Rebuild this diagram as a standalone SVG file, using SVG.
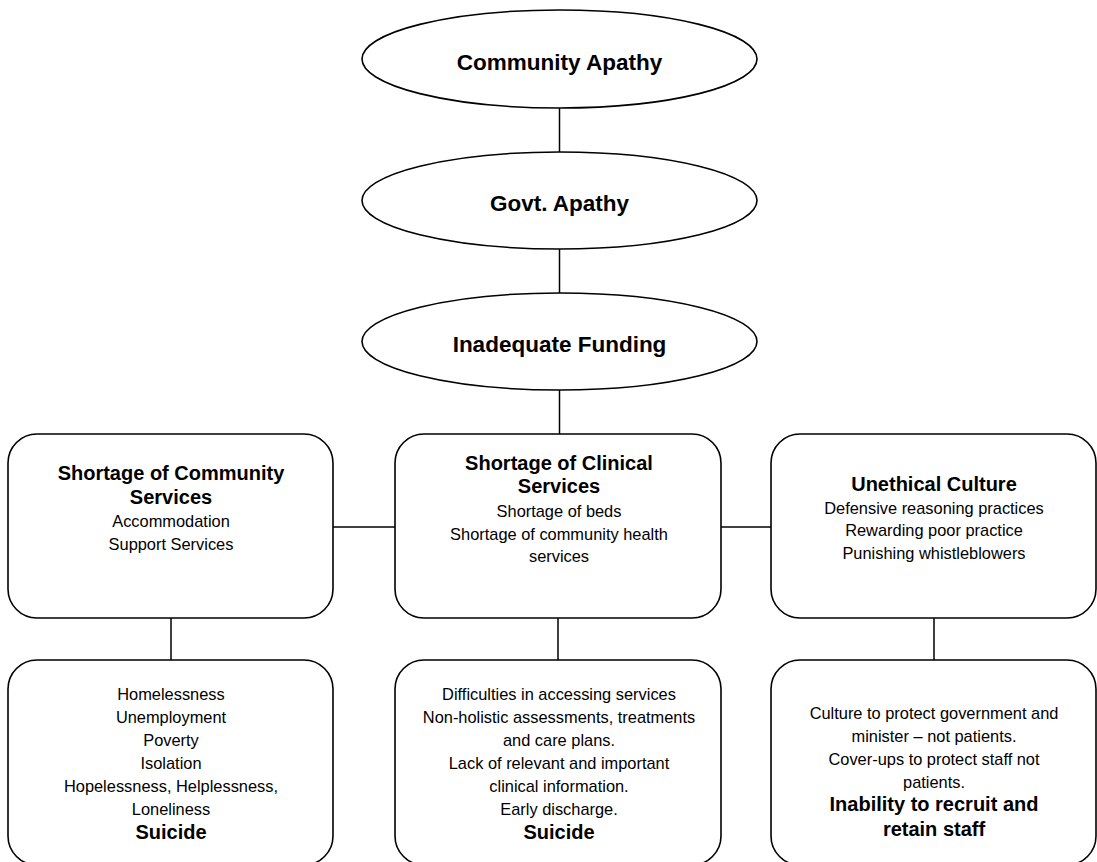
<svg xmlns="http://www.w3.org/2000/svg" width="1097" height="862" viewBox="0 0 1097 862">
<style>
.shape{fill:#fff;stroke:#000;stroke-width:1.6}
.conn line{stroke:#000;stroke-width:1.5}
text{font-family:"Liberation Sans",Arial,Helvetica,sans-serif;text-anchor:middle;fill:#000}
.t{font-size:20px;font-weight:bold}
.e{font-size:22.5px;font-weight:bold}
.r{font-size:16.4px}
</style>
<rect width="1097" height="862" fill="#fff"/>
<g class="conn" id="connectors">
<line x1="559.5" y1="108" x2="559.5" y2="152"/>
<line x1="559.5" y1="249" x2="559.5" y2="293"/>
<line x1="559.5" y1="390" x2="559.5" y2="434"/>
<line x1="333" y1="527" x2="395" y2="527"/>
<line x1="721" y1="527" x2="771" y2="527"/>
<line x1="171" y1="618" x2="171" y2="660"/>
<line x1="558" y1="618" x2="558" y2="660"/>
<line x1="934" y1="618" x2="934" y2="660"/>
</g>
<g id="community-apathy">
<ellipse class="shape" cx="559.5" cy="59" rx="197.5" ry="49"/>
<text class="e" x="559.5" y="70">Community Apathy</text>
</g>
<g id="govt-apathy">
<ellipse class="shape" cx="559.5" cy="200.5" rx="197.5" ry="48.5"/>
<text class="e" x="559.5" y="211">Govt. Apathy</text>
</g>
<g id="inadequate-funding">
<ellipse class="shape" cx="559.5" cy="341.5" rx="197.5" ry="48.5"/>
<text class="e" x="559.5" y="352">Inadequate Funding</text>
</g>
<g id="community-services">
<rect class="shape" x="8" y="434" width="325" height="184" rx="29"/>
<text class="t" x="171" y="480">Shortage of Community</text>
<text class="t" x="171" y="504">Services</text>
<text class="r" x="171" y="527">Accommodation</text>
<text class="r" x="171" y="550">Support Services</text>
</g>
<g id="clinical-services">
<rect class="shape" x="395" y="434" width="326" height="184" rx="29"/>
<text class="t" x="559" y="470">Shortage of Clinical</text>
<text class="t" x="559" y="493">Services</text>
<text class="r" x="559" y="517">Shortage of beds</text>
<text class="r" x="559" y="539.5">Shortage of community health</text>
<text class="r" x="559" y="562">services</text>
</g>
<g id="unethical-culture">
<rect class="shape" x="771" y="434" width="325" height="184" rx="29"/>
<text class="t" x="934" y="491">Unethical Culture</text>
<text class="r" x="934" y="513.5">Defensive reasoning practices</text>
<text class="r" x="934" y="536">Rewarding poor practice</text>
<text class="r" x="934" y="559">Punishing whistleblowers</text>
</g>
<g id="community-outcomes">
<rect class="shape" x="8" y="660" width="325" height="205" rx="29"/>
<text class="r" x="171" y="699.5">Homelessness</text>
<text class="r" x="171" y="722.5">Unemployment</text>
<text class="r" x="171" y="745.5">Poverty</text>
<text class="r" x="171" y="768.5">Isolation</text>
<text class="r" x="171" y="791.5">Hopelessness, Helplessness,</text>
<text class="r" x="171" y="814.5">Loneliness</text>
<text class="t" x="171" y="839">Suicide</text>
</g>
<g id="clinical-outcomes">
<rect class="shape" x="395" y="660" width="326" height="205" rx="29"/>
<text class="r" x="559" y="699.5">Difficulties in accessing services</text>
<text class="r" x="559" y="722.5">Non-holistic assessments, treatments</text>
<text class="r" x="559" y="745.5">and care plans.</text>
<text class="r" x="559" y="768.5">Lack of relevant and important</text>
<text class="r" x="559" y="791.5">clinical information.</text>
<text class="r" x="559" y="814.5">Early discharge.</text>
<text class="t" x="559" y="839">Suicide</text>
</g>
<g id="culture-outcomes">
<rect class="shape" x="771" y="660" width="325" height="205" rx="29"/>
<text class="r" x="934" y="718.5">Culture to protect government and</text>
<text class="r" x="934" y="741.5">minister – not patients.</text>
<text class="r" x="934" y="764.5">Cover-ups to protect staff not</text>
<text class="r" x="934" y="787.5">patients.</text>
<text class="t" x="934" y="811">Inability to recruit and</text>
<text class="t" x="934" y="836">retain staff</text>
</g>
</svg>
